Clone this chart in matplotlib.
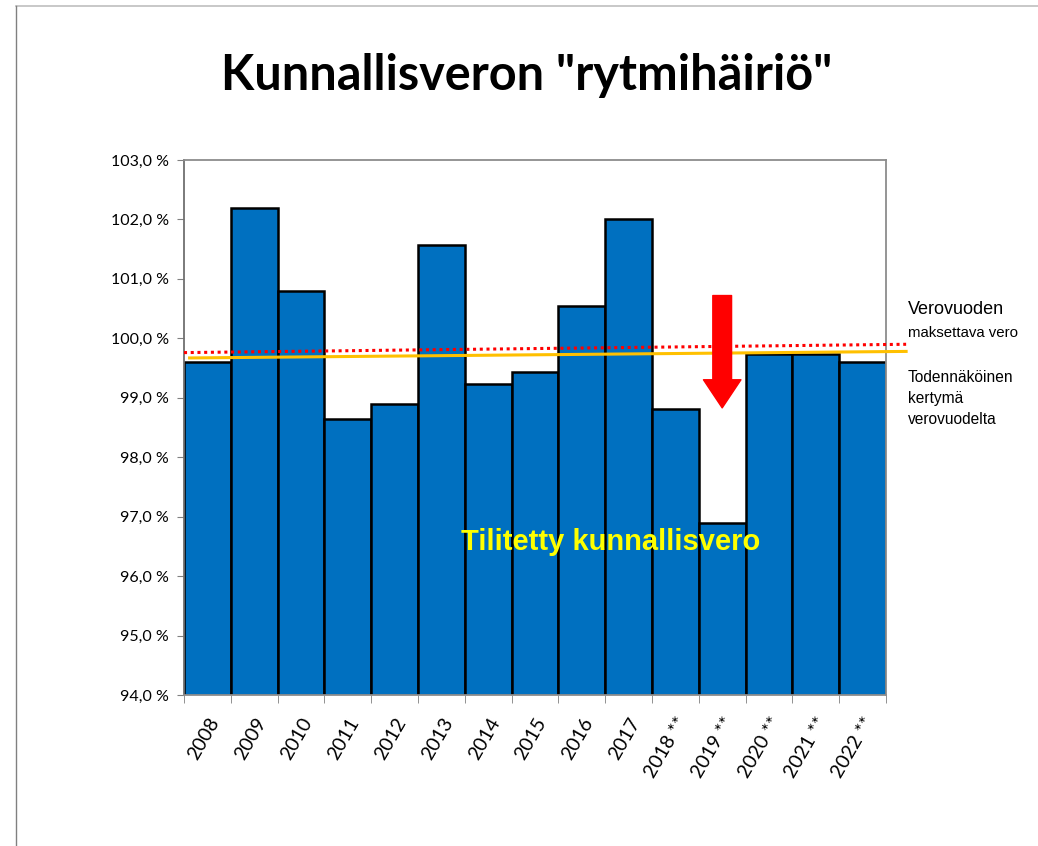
import matplotlib
matplotlib.use("Agg")
import matplotlib.pyplot as plt
from matplotlib.lines import Line2D

years = ["2008", "2009", "2010", "2011", "2012", "2013", "2014", "2015",
         "2016", "2017", "2018 **", "2019 **", "2020 **", "2021 **", "2022 **"]
values = [99.6, 102.2, 100.8, 98.65, 98.9, 101.57, 99.23, 99.43,
          100.55, 102.01, 98.81, 96.89, 99.74, 99.74, 99.6]
red_line = [99.76, 99.9]      # Verovuoden maksettava vero (start, end)
yellow_line = [99.67, 99.78]  # Todennäköinen kertymä verovuodelta (start, end)
yticks = [94, 95, 96, 97, 98, 99, 100, 101, 102, 103]

fig = plt.figure(figsize=(10.38, 8.46), dpi=100)
ax = fig.add_axes([184/1038, 1-695/846, 702/1038, 535/846])

x = list(range(len(years)))
ax.bar(x, values, width=1.0, bottom=0, color="#0070C0", edgecolor="black",
       linewidth=1.8, zorder=2)
ax.set_ylim(94, 103)
ax.set_xlim(-0.5, 14.5)

ax.set_yticks(yticks)
ax.set_yticklabels([f"{v:.1f} %".replace(".", ",") for v in yticks],
                   fontsize=11.5, family="Lato")
ax.set_xticks(x)
ax.set_xticklabels(years, rotation=60, ha="right", va="top", rotation_mode="anchor",
                   fontsize=14, family="Lato")
ax.set_xticks([i - 0.5 for i in range(16)], minor=True)
ax.tick_params(axis="x", which="major", length=0, pad=14)
ax.tick_params(axis="x", which="minor", length=6, color="#808080")
ax.tick_params(axis="y", length=5, color="#808080", pad=6)
for s in ax.spines.values():
    s.set_color("#8c8c8c")
    s.set_linewidth(1.3)
ax.spines["left"].set_color("#707070")

# reference lines extending beyond the plot area
ax.add_line(Line2D([-0.5, 14.93], red_line, color="#FF0000", linestyle=(0, (1, 1.2)),
                   linewidth=2.2, clip_on=False, zorder=3))
ax.add_line(Line2D([-0.38, 14.93], yellow_line, color="#FFC000", linewidth=2.2,
                   clip_on=False, zorder=3))

# arrow
ax.annotate("", xy=(11, 98.83), xytext=(11, 100.72),
            arrowprops=dict(arrowstyle="simple,head_width=2.0,head_length=1.5,tail_width=1.0",
                            color="#FF0000", mutation_scale=13.5, shrinkA=0, shrinkB=0),
            zorder=4)

ax.text(8.62, 96.57, "Tilitetty kunnallisvero", color="#FFFF00", fontsize=21,
        fontweight="bold", family="Liberation Sans", ha="center", va="center", zorder=5)

fig.text(527/1038, 1-75/846, 'Kunnallisveron "rytmihäiriö"', fontsize=35,
         fontweight="bold", family="Lato", ha="center", va="center")

fig.text(908/1038, 1-310/846, "Verovuoden", fontsize=13, family="Liberation Sans",
         ha="left", va="center")
fig.text(908/1038, 1-333/846, "maksettava vero", fontsize=10.8, family="Liberation Sans",
         ha="left", va="center")
for i, t in enumerate(["Todennäköinen", "kertymä", "verovuodelta"]):
    fig.text(908/1038, 1-(377 + i*21)/846, t, fontsize=11.2, family="Liberation Sans",
             ha="left", va="center")

# slide border
fig.add_artist(Line2D([16/1038, 1], [1-6/846, 1-6/846], color="#bfbfbf", linewidth=1.2))
fig.add_artist(Line2D([16/1038, 16/1038], [0, 1-6/846], color="#808080", linewidth=1.0))

fig.savefig("out.png", dpi=100)
